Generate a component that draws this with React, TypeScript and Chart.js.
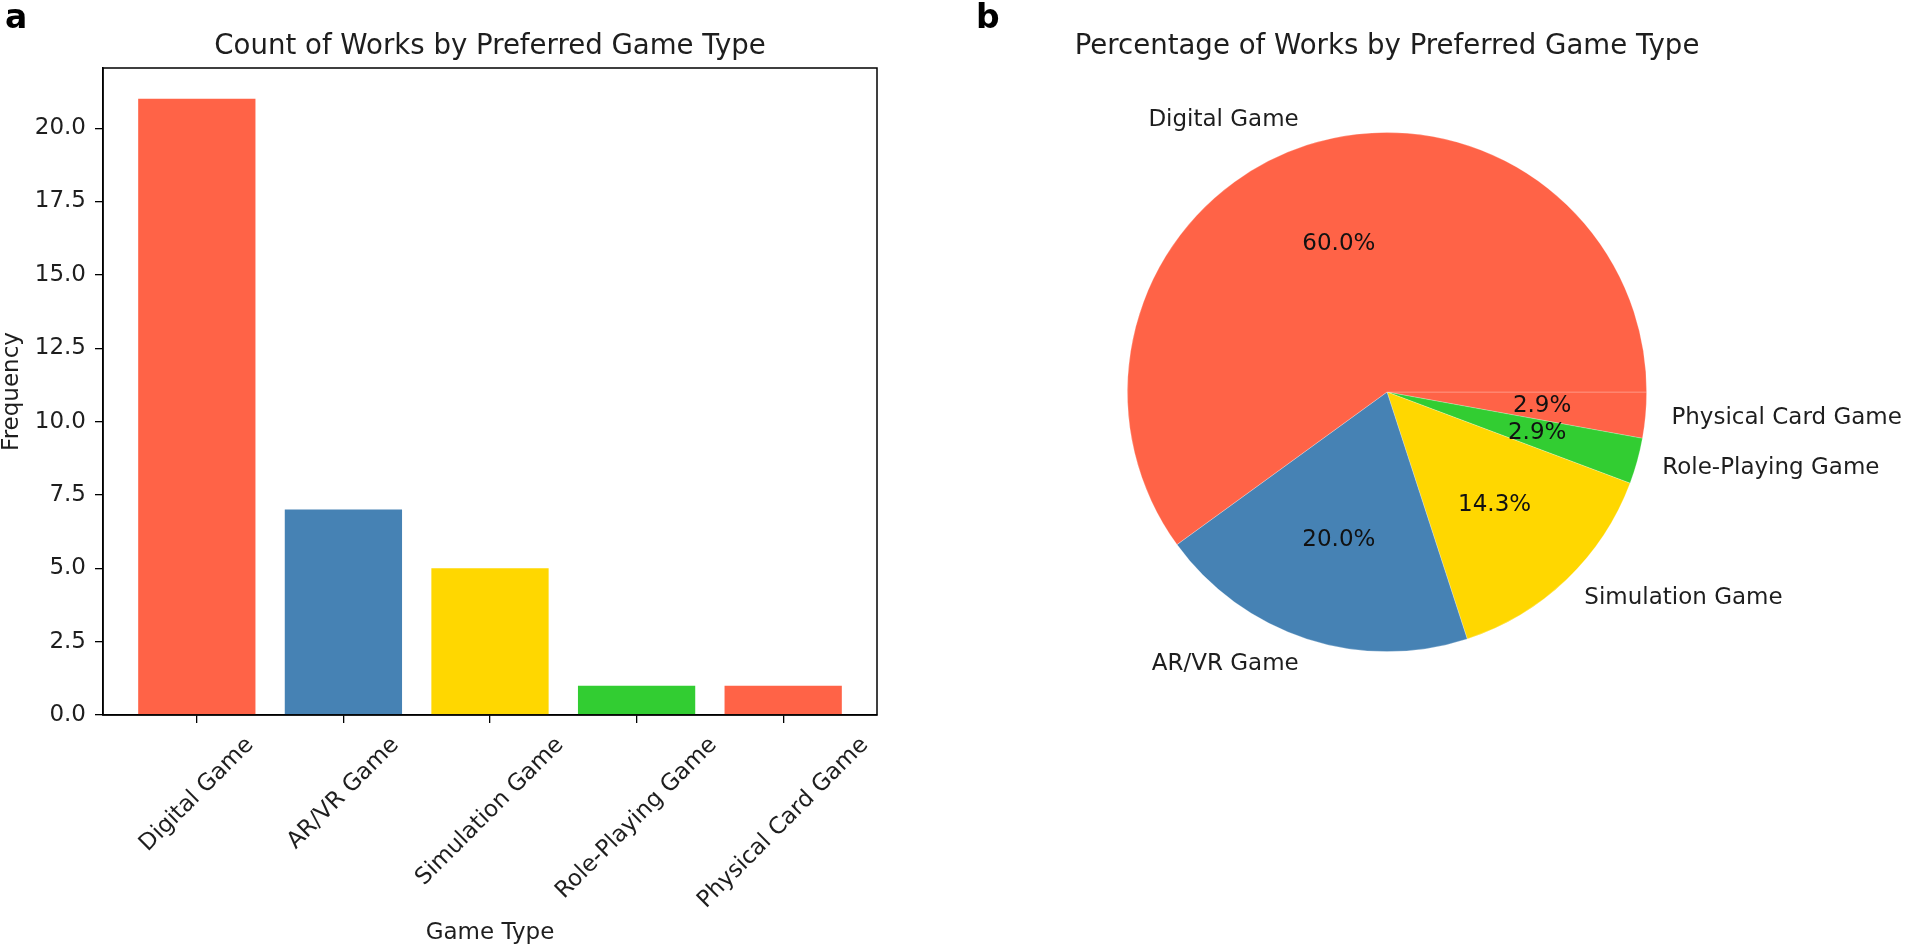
import React, { useEffect, useRef } from "react";
import { Chart, registerables } from "chart.js";

Chart.register(...registerables);

const FONT = '"DejaVu Sans", "Noto Sans", sans-serif';

// ---- data ----
const categories = ["Digital Game", "AR/VR Game", "Simulation Game", "Role-Playing Game", "Physical Card Game"];
const counts = [21, 7, 5, 1, 1];
const sliceColors = ["#FF6347", "#4682B4", "#FFD700", "#32CD32", "#FF6347"];
const yTickValues = [0, 2.5, 5, 7.5, 10, 12.5, 15, 17.5, 20];
const barTitle = "Count of Works by Preferred Game Type";
const pieTitle = "Percentage of Works by Preferred Game Type";
const xAxisLabel = "Game Type";
const yAxisLabel = "Frequency";
const panelLabels = ["a", "b"];

const TEXT = "#1e1e1e";
const PANEL_W = 954;
const PANEL_H = 949;

function BarPanel() {
  const ref = useRef<HTMLCanvasElement | null>(null);
  useEffect(() => {
    const canvas = ref.current;
    if (!canvas) return;
    const n = categories.length;
    const xPositions = categories.map((_, i) => i);
    const xMargin = 0.05 * (n - 1 + 0.8);
    const yMax = Math.max(...counts) * 1.05;

    const framePlugin = {
      id: "barDecor",
      afterDraw(chart: any) {
        const ctx = chart.ctx as CanvasRenderingContext2D;
        const a = chart.chartArea;
        const xs = chart.scales.x;
        ctx.save();
        ctx.strokeStyle = "#000";
        ctx.lineWidth = 1.5;
        ctx.strokeRect(a.left, a.top, a.right - a.left, a.bottom - a.top);

        // rotated x tick labels, centred on each tick (matplotlib style)
        const fs = 23;
        ctx.font = `${fs}px ${FONT}`;
        ctx.fillStyle = TEXT;
        ctx.textAlign = "center";
        ctx.textBaseline = "middle";
        const y0 = a.bottom + 8 + 9;
        const h = fs * 1.164;
        categories.forEach((label, i) => {
          const px = xs.getPixelForValue(xPositions[i]);
          const w = ctx.measureText(label).width;
          const d = (w + h) / (2 * Math.SQRT2);
          ctx.save();
          ctx.translate(px, y0 + d);
          ctx.rotate(-Math.PI / 4);
          ctx.fillText(label, 0, 0);
          ctx.restore();
        });

        // axis labels
        ctx.fillText(xAxisLabel, (a.left + a.right) / 2, 933);
        ctx.save();
        ctx.translate(12, (a.top + a.bottom) / 2);
        ctx.rotate(-Math.PI / 2);
        ctx.fillText(yAxisLabel, 0, 0);
        ctx.restore();

        // title
        ctx.font = `27.6px ${FONT}`;
        ctx.textBaseline = "alphabetic";
        ctx.fillText(barTitle, (a.left + a.right) / 2, 53.5);

        // panel label
        ctx.font = `bold 33px ${FONT}`;
        ctx.textAlign = "left";
        ctx.fillStyle = "#000";
        ctx.fillText(panelLabels[0], 5, 28);
        ctx.restore();
      },
    };

    const chart = new Chart(canvas, {
      type: "bar",
      data: {
        datasets: [
          {
            data: counts.map((c, i) => ({ x: xPositions[i], y: c })),
            backgroundColor: sliceColors,
            borderWidth: 0,
            categoryPercentage: 1,
            barPercentage: 0.8,
          } as any,
        ],
      },
      options: {
        animation: false,
        responsive: false,
        devicePixelRatio: 1,
        events: [],
        layout: { padding: { left: 0, top: 68, right: 77, bottom: 0 } },
        plugins: { legend: { display: false }, tooltip: { enabled: false }, title: { display: false } },
        scales: {
          x: {
            type: "linear",
            offset: false,
            min: -0.4 - xMargin,
            max: n - 1 + 0.4 + xMargin,
            afterBuildTicks: (s: any) => {
              s.ticks = xPositions.map((v) => ({ value: v }));
            },
            afterFit: (s: any) => {
              s.height = 234;
            },
            ticks: { display: false },
            grid: {
              display: true,
              offset: false,
              drawOnChartArea: false,
              drawTicks: true,
              tickLength: 8,
              color: "#000",
              lineWidth: 1.3,
            },
            border: { display: true, color: "#000", width: 1.5 },
          },
          y: {
            type: "linear",
            min: 0,
            max: yMax,
            afterBuildTicks: (s: any) => {
              s.ticks = yTickValues.map((v) => ({ value: v }));
            },
            afterFit: (s: any) => {
              s.width = 103;
            },
            ticks: {
              callback: (v: any) => Number(v).toFixed(1),
              font: { family: FONT, size: 23 },
              color: TEXT,
              padding: 9,
            },
            grid: { display: true, drawOnChartArea: false, drawTicks: true, tickLength: 8, color: "#000", lineWidth: 1.3 },
            border: { display: true, color: "#000", width: 1.5 },
          },
        },
      } as any,
      plugins: [framePlugin],
    });
    return () => chart.destroy();
  }, []);
  return (
    <canvas
      ref={ref}
      width={PANEL_W}
      height={PANEL_H}
      style={{ position: "absolute", left: 0, top: 0, width: PANEL_W, height: PANEL_H }}
    />
  );
}

function PiePanel() {
  const ref = useRef<HTMLCanvasElement | null>(null);
  useEffect(() => {
    const canvas = ref.current;
    if (!canvas) return;
    const total = counts.reduce((s, v) => s + v, 0);
    // matplotlib draws counter-clockwise from 3 o'clock; Chart.js draws clockwise,
    // so the order is reversed and drawing starts at 3 o'clock.
    const order = categories.map((_, i) => categories.length - 1 - i);
    const pieLabels = order.map((i) => categories[i]);
    const pieValues = order.map((i) => counts[i]);
    const pieColors = order.map((i) => sliceColors[i]);

    const labelPlugin = {
      id: "pieDecor",
      afterDraw(chart: any) {
        const ctx = chart.ctx as CanvasRenderingContext2D;
        const meta = chart.getDatasetMeta(0);
        ctx.save();
        const fs = 23;
        let cx = 0;
        meta.data.forEach((arc: any, k: number) => {
          const { x, y, startAngle, endAngle, outerRadius } = arc.getProps(
            ["x", "y", "startAngle", "endAngle", "outerRadius"],
            true
          );
          cx = x;
          const mid = (startAngle + endAngle) / 2;
          const c = Math.cos(mid);
          const s = Math.sin(mid);
          ctx.font = `${fs}px ${FONT}`;
          ctx.textBaseline = "middle";
          ctx.fillStyle = TEXT;
          ctx.textAlign = c > 0 ? "left" : "right";
          ctx.fillText(pieLabels[k], x + 1.1 * outerRadius * c, y + 1.1 * outerRadius * s);
          ctx.textAlign = "center";
          ctx.fillStyle = "#111";
          const pct = ((pieValues[k] / total) * 100).toFixed(1) + "%";
          ctx.fillText(pct, x + 0.6 * outerRadius * c, y + 0.6 * outerRadius * s);
        });
        ctx.fillStyle = TEXT;
        ctx.textAlign = "center";
        ctx.textBaseline = "alphabetic";
        ctx.font = `27.6px ${FONT}`;
        ctx.fillText(pieTitle, cx, 53.5);
        ctx.font = `bold 33px ${FONT}`;
        ctx.textAlign = "left";
        ctx.fillStyle = "#000";
        ctx.fillText(panelLabels[1], 22, 28);
        ctx.restore();
      },
    };

    const chart = new Chart(canvas, {
      type: "pie",
      data: {
        labels: pieLabels,
        datasets: [
          {
            data: pieValues,
            backgroundColor: pieColors,
            borderWidth: 0.8,
            borderColor: "rgba(255,255,255,0.3)",
          },
        ],
      },
      options: {
        animation: false,
        responsive: false,
        devicePixelRatio: 1,
        events: [],
        rotation: 90,
        layout: { padding: { left: 173, top: 132, right: 261, bottom: 297 } },
        plugins: { legend: { display: false }, tooltip: { enabled: false }, title: { display: false } },
      } as any,
      plugins: [labelPlugin],
    });
    return () => chart.destroy();
  }, []);
  return (
    <canvas
      ref={ref}
      width={PANEL_W}
      height={PANEL_H}
      style={{ position: "absolute", left: PANEL_W, top: 0, width: PANEL_W, height: PANEL_H }}
    />
  );
}

export default function App() {
  return (
    <div
      style={{
        position: "fixed",
        left: 0,
        top: 0,
        width: PANEL_W * 2,
        height: PANEL_H,
        background: "#fff",
        overflow: "hidden",
      }}
    >
      <BarPanel />
      <PiePanel />
    </div>
  );
}
